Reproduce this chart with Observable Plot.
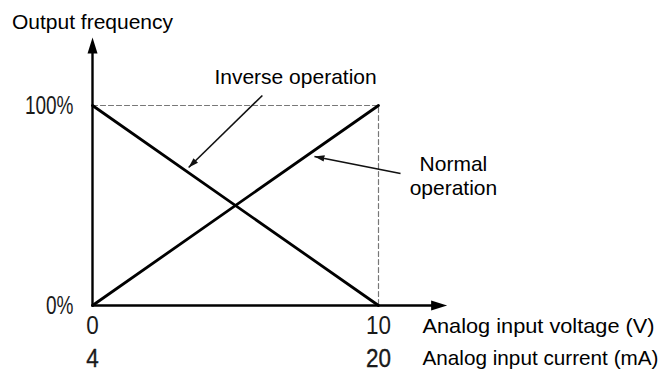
<!DOCTYPE html>
<html>
<head>
<meta charset="utf-8">
<script src="https://cdn.jsdelivr.net/npm/d3@7"></script>
<script src="https://cdn.jsdelivr.net/npm/@observablehq/plot@0.6"></script>
<style>
  html, body { margin: 0; padding: 0; background: #fff; }
  svg { display: block; }
</style>
</head>
<body>
<div id="chart"></div>
<script>
// ---- data ----
const voltage = [0, 10];            // analog input voltage (V)
const current = [4, 20];            // analog input current (mA), same positions
const normalOutput = [0, 100];      // output frequency % for normal operation
const inverseOutput = [100, 0];     // output frequency % for inverse operation
const freqTicks = [0, 100];
const axisEnds = {x: 12.4, y: 134}; // arrow tips of the axes (data units)

const titleY = "Output frequency";
const labelVoltage = "Analog input voltage (V)";
const labelCurrent = "Analog input current (mA)";

const annotations = [
  {label: "Inverse operation", tx: 7.1, ty: 114.5, x1: 5.94, y1: 105, x2: 3.36, y2: 69},
  {label: "Normal\noperation", tx: 12.62, ty: 65, x1: 10.77, y1: 66, x2: 7.76, y2: 74.5}
];

const normal = voltage.map((v, i) => ({x: v, y: normalOutput[i]}));
const inverse = voltage.map((v, i) => ({x: v, y: inverseOutput[i]}));

const textFont = "Liberation Sans, Arimo, Arial, sans-serif";
const tickFont = "Liberation Sans, Arial, sans-serif";

const headShape = {
  draw(context, l, r) {
    context.moveTo(0, -l);
    context.lineTo(r, 0);
    context.lineTo(-r, 0);
    context.closePath();
  }
};

// small filled arrowhead marker for the annotation pointers
const smallHead = (color, context) => {
  const doc = context && context.document ? context.document : document;
  const ns = "http://www.w3.org/2000/svg";
  const m = doc.createElementNS(ns, "marker");
  m.setAttribute("viewBox", "-10 -5 10 10");
  m.setAttribute("markerWidth", 10);
  m.setAttribute("markerHeight", 10);
  m.setAttribute("markerUnits", "userSpaceOnUse");
  m.setAttribute("orient", "auto");
  m.setAttribute("refX", 0);
  m.setAttribute("refY", 0);
  const p = doc.createElementNS(ns, "path");
  p.setAttribute("d", "M-10,-3.2L0,0L-10,3.2Z");
  p.setAttribute("fill", color);
  p.setAttribute("stroke", "none");
  m.appendChild(p);
  return m;
};

const chart = Plot.plot({
  width: 665,
  height: 371,
  marginLeft: 92,
  marginRight: 287,
  marginTop: 105,
  marginBottom: 66,
  style: {fontFamily: textFont, background: "#fff", color: "#000"},
  x: {domain: [0, 10]},
  y: {domain: [0, 100]},
  marks: [
    // dashed guides
    Plot.line([{x: 0, y: 100}, {x: 10, y: 100}, {x: 10, y: 0}], {
      x: "x", y: "y", stroke: "#777", strokeWidth: 1.2, strokeDasharray: "5,3"
    }),
    // axes with arrows
    Plot.line([{x: 0, y: 0}, {x: axisEnds.x - 0.3, y: 0}], {x: "x", y: "y", stroke: "#000", strokeWidth: 2.4, clip: false}),
    Plot.line([{x: 0, y: 0}, {x: 0, y: axisEnds.y - 3}], {x: "x", y: "y", stroke: "#000", strokeWidth: 2.4, clip: false}),
    Plot.vector([{x: axisEnds.x, y: 0}], {x: "x", y: "y", rotate: 90, length: 16, r: 5, anchor: "end", shape: headShape, fill: "#000", stroke: "none"}),
    Plot.vector([{x: 0, y: axisEnds.y}], {x: "x", y: "y", rotate: 0, length: 16, r: 5, anchor: "end", shape: headShape, fill: "#000", stroke: "none"}),
    // operation lines
    Plot.line(normal, {x: "x", y: "y", stroke: "#000", strokeWidth: 2.8}),
    Plot.line(inverse, {x: "x", y: "y", stroke: "#000", strokeWidth: 2.8}),
    // annotation pointers and labels
    Plot.link(annotations, {x1: "x1", y1: "y1", x2: "x2", y2: "y2", stroke: "#111", strokeWidth: 1.6, markerEnd: smallHead}),
    Plot.text(annotations, {x: "tx", y: "ty", text: "label", fontSize: 21, lineHeight: 1.15, fill: "#000"}),
    // y title
    Plot.text([titleY], {x: 0, y: axisEnds.y, text: d => d, dy: -15, fontSize: 21, fill: "#000"}),
    // tick labels
    Plot.axisY(freqTicks, {tickSize: 0, tickPadding: 19, tickFormat: d => d + "%", fontSize: 25, fontFamily: tickFont, label: null, fill: "#1a1a1a", stroke: "#1a1a1a", strokeWidth: 0.35}),
    Plot.axisX(voltage, {tickSize: 0, tickPadding: 11, fontSize: 25, fontFamily: tickFont, label: null, fill: "#1a1a1a", stroke: "#1a1a1a", strokeWidth: 0.35}),
    Plot.text(voltage, {x: d => d, y: 0, text: (d, i) => String(current[i]), dy: 53, fontSize: 25, fontFamily: tickFont, fill: "#1a1a1a", stroke: "#1a1a1a", strokeWidth: 0.35}),
    // axis descriptions
    Plot.text([labelVoltage], {x: 10, y: 0, text: d => d, dx: 44, dy: 21, textAnchor: "start", fontSize: 21, fill: "#000"}),
    Plot.text([labelCurrent], {x: 10, y: 0, text: d => d, dx: 44, dy: 53, textAnchor: "start", fontSize: 21, fill: "#000"})
  ]
});
document.getElementById("chart").appendChild(chart);

// narrow the tick numerals like the condensed gothic face of the original,
// and let the two axis descriptions span the width they take in the original
chart.querySelectorAll("text").forEach(t => {
  const s = t.textContent.trim();
  const w = t.getComputedTextLength();
  if (/^\d+%?$/.test(s)) {
    const f = s.includes("%") ? 0.76 : 0.9;
    t.setAttribute("textLength", (w * f).toFixed(1));
    t.setAttribute("lengthAdjust", "spacingAndGlyphs");
  } else if (s === labelVoltage) {
    t.setAttribute("textLength", "232");
    t.setAttribute("lengthAdjust", "spacingAndGlyphs");
  } else if (s === labelCurrent) {
    t.setAttribute("textLength", Math.min(w, 236).toFixed(1));
    t.setAttribute("lengthAdjust", "spacingAndGlyphs");
  }
});
</script>
</body>
</html>
